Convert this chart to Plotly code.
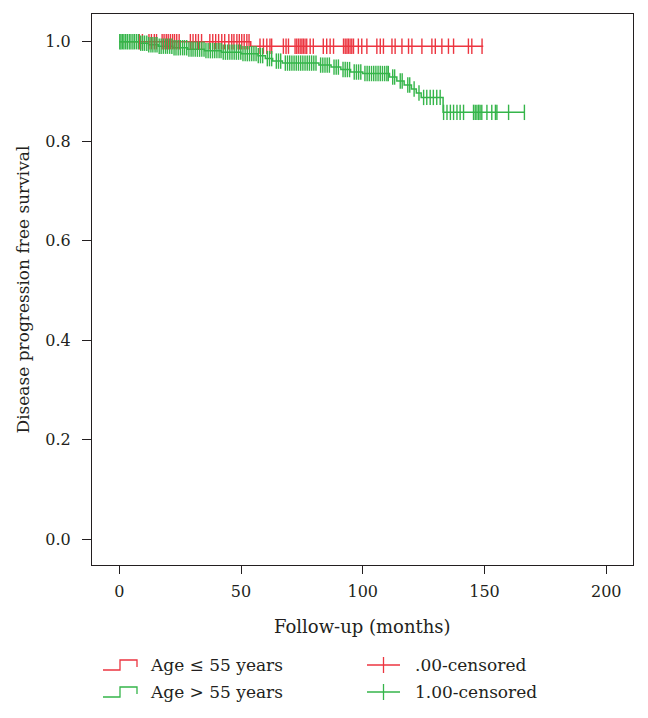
import plotly.graph_objects as go

# ---------------- data ----------------
red_event_times = [0, 54.0]
red_event_surv = [1.0, 0.991]
red_end_time = 149.5

green_event_times = [0, 8, 12, 16, 22, 28, 35, 42, 50, 57, 60, 63, 67, 82, 87, 91, 95, 100,
                     111, 114, 117, 120, 122, 124, 133]
green_event_surv = [1.0, 0.997, 0.994, 0.991, 0.988, 0.985, 0.982, 0.979, 0.976, 0.972, 0.966,
                    0.961, 0.957, 0.953, 0.949, 0.944, 0.939, 0.936, 0.929, 0.921, 0.913, 0.905,
                    0.897, 0.888, 0.858]
green_end_time = 166.4

red_censor_times = [8.2, 9.5, 12.2, 13.2, 14.4, 15.3, 17.6, 18.4, 19.3, 20.1, 21.0, 21.9, 22.7,
                    23.6, 24.6, 29.2, 30.3, 31.4, 32.5, 33.8, 37.2, 38.4, 39.6, 40.8, 42.1, 43.3,
                    45.0, 46.2, 47.1, 48.3, 49.3, 50.3, 51.3, 52.4, 53.3, 57.8, 59.2, 60.6, 61.9,
                    62.6, 67.4, 68.5, 69.5, 72.2, 72.9, 73.6, 74.3, 75.0, 75.6, 76.3, 77.0, 78.4,
                    79.7, 83.8, 85.2, 86.6, 88.0, 92.1, 92.8, 93.5, 94.1, 94.8, 95.5, 96.2, 98.2,
                    99.6, 101.7, 105.8, 107.2, 108.5, 112.0, 113.3, 116.1, 118.8, 120.2, 124.3,
                    128.4, 129.8, 132.5, 135.2, 137.3, 143.4, 144.8, 149.0]

green_censor_times = [0.2, 0.7, 1.3, 1.9, 2.6, 3.3, 4.1, 4.8, 5.6, 6.3, 7.1, 7.9, 8.8, 9.6, 10.4,
                      11.3, 12.1, 13.0, 13.8, 14.7, 15.5, 16.4, 17.2, 18.1, 19.0, 19.8, 20.7, 21.6,
                      22.5, 23.3, 24.2, 25.1, 26.0, 26.8, 27.7, 28.6, 29.5, 30.3, 31.2, 32.1, 33.0,
                      33.9, 34.8, 35.6, 36.5, 37.4, 38.3, 39.2, 40.1, 41.0, 41.8, 42.7, 43.6, 44.5,
                      45.4, 46.3, 47.2, 48.1, 49.0, 49.9, 50.8, 51.7, 52.6, 53.5, 54.4, 55.3, 56.2,
                      57.1, 58.0, 58.9, 60.8, 61.7, 62.6, 64.5, 65.4, 66.3, 68.2, 69.1, 70.0, 70.9,
                      71.8, 72.7, 73.6, 74.5, 75.4, 76.3, 77.2, 78.1, 79.0, 79.9, 80.8, 82.7, 83.6,
                      84.5, 85.4, 86.3, 88.2, 89.1, 90.0, 91.9, 92.8, 93.7, 94.6, 96.5, 97.4, 98.3,
                      99.2, 100.9, 101.8, 102.7, 103.6, 104.5, 105.4, 106.3, 107.2, 108.1, 109.0,
                      109.9, 110.5, 112.3, 113.1, 115.4, 116.2, 118.5, 119.3, 121.1, 123.1, 125.0,
                      126.3, 127.7, 129.0, 130.4, 131.8, 133.2, 134.6, 136.0, 137.3, 138.7, 140.0,
                      141.4, 145.5, 146.2, 146.9, 147.6, 148.2, 148.9, 151.0, 153.0, 154.5, 155.1,
                      159.9, 166.4]

x_ticks = [0, 50, 100, 150, 200]
y_ticks = [0.0, 0.2, 0.4, 0.6, 0.8, 1.0]
y_tick_labels = ["0.0", "0.2", "0.4", "0.6", "0.8", "1.0"]

legend_labels = ["Age \u2264 55 years", "Age > 55 years", ".00-censored", "1.00-censored"]
x_title = "Follow-up (months)"
y_title = "Disease progression free survival"

RED = "#ec3540"
GREEN = "#35b54a"
TXT = "#231f20"
FONT = "DejaVu Serif, Liberation Serif, serif"


def surv_at(t, times, surv):
    s = surv[0]
    for tt, ss in zip(times, surv):
        if tt <= t:
            s = ss
    return s


fig = go.Figure()

for times, surv, end, color in [(red_event_times, red_event_surv, red_end_time, RED),
                                 (green_event_times, green_event_surv, green_end_time, GREEN)]:
    xs = list(times) + [end]
    ys = list(surv) + [surv[-1]]
    fig.add_trace(go.Scatter(x=xs, y=ys, mode="lines", line=dict(color=color, width=1.5, shape="hv"),
                             showlegend=False, hoverinfo="skip"))

for ct, times, surv, color in [(red_censor_times, red_event_times, red_event_surv, RED),
                               (green_censor_times, green_event_times, green_event_surv, GREEN)]:
    ys = [surv_at(t, times, surv) for t in ct]
    fig.add_trace(go.Scatter(x=ct, y=ys, mode="markers",
                             marker=dict(symbol="line-ns", size=11, line=dict(color=color, width=1.4)),
                             showlegend=False, hoverinfo="skip"))

# -------- layout geometry (reference pixel coords; page body adds an 8px offset) --------
OFF = 8
W, H = 648 - OFF, 718 - OFF
L, R, T, B = 92, 633, 14, 565


def px(x):
    return (x - L) / (R - L)


def py(y):
    return (B - y) / (B - T)


shapes = []
annotations = []
rows = [(665, RED), (692, GREEN)]
for i, (yc, color) in enumerate(rows):
    yb, yt = yc + 5, yc - 5
    path = (f"M {px(103)},{py(yb)} L {px(120)},{py(yb)} L {px(120)},{py(yt)} "
            f"L {px(137)},{py(yt)} L {px(137)},{py(yc + 2)}")
    shapes.append(dict(type="path", xref="paper", yref="paper", path=path,
                       line=dict(color=color, width=1.3)))
    annotations.append(dict(xref="paper", yref="paper", x=px(148), y=py(yc), text=legend_labels[i],
                            showarrow=False, xanchor="left", yanchor="middle",
                            font=dict(family=FONT, size=17, color=TXT)))
    shapes.append(dict(type="line", xref="paper", yref="paper", x0=px(367), x1=px(400),
                       y0=py(yc), y1=py(yc), line=dict(color=color, width=1.3)))
    shapes.append(dict(type="line", xref="paper", yref="paper", x0=px(383.5), x1=px(383.5),
                       y0=py(yc - 8), y1=py(yc + 8), line=dict(color=color, width=1.3)))
    annotations.append(dict(xref="paper", yref="paper", x=px(413), y=py(yc), text=legend_labels[i + 2],
                            showarrow=False, xanchor="left", yanchor="middle",
                            font=dict(family=FONT, size=17, color=TXT)))

# axis titles
annotations.append(dict(xref="paper", yref="paper", x=0.5, y=py(626), text=x_title, showarrow=False,
                        xanchor="center", yanchor="middle", font=dict(family=FONT, size=18, color=TXT)))
annotations.append(dict(xref="paper", yref="paper", x=px(22), y=0.5, text=y_title, showarrow=False,
                        textangle=-90, xanchor="center", yanchor="middle",
                        font=dict(family=FONT, size=17, color=TXT)))

fig.update_layout(
    width=W, height=H,
    margin=dict(l=L - OFF, r=W - (R - OFF), t=T - OFF, b=H - (B - OFF), autoexpand=False),
    paper_bgcolor="white", plot_bgcolor="white",
    font=dict(family=FONT, size=16, color=TXT),
    shapes=shapes, annotations=annotations,
    showlegend=False,
)
fig.update_xaxes(range=[-11.2, 211], tickvals=x_ticks, ticks="outside", ticklen=8, tickwidth=1,
                 tickcolor=TXT, showline=True, linecolor=TXT, linewidth=1, mirror=True,
                 showgrid=False, zeroline=False, tickfont=dict(size=16), ticklabelstandoff=4)
fig.update_yaxes(range=[-0.052, 1.0557], tickvals=y_ticks, ticktext=y_tick_labels, ticks="outside",
                 ticklen=9, tickwidth=1, tickcolor=TXT, showline=True, linecolor=TXT, linewidth=1,
                 mirror=True, showgrid=False, zeroline=False, tickfont=dict(size=16),
                 ticklabelstandoff=8)

fig.write_html("out.html")
